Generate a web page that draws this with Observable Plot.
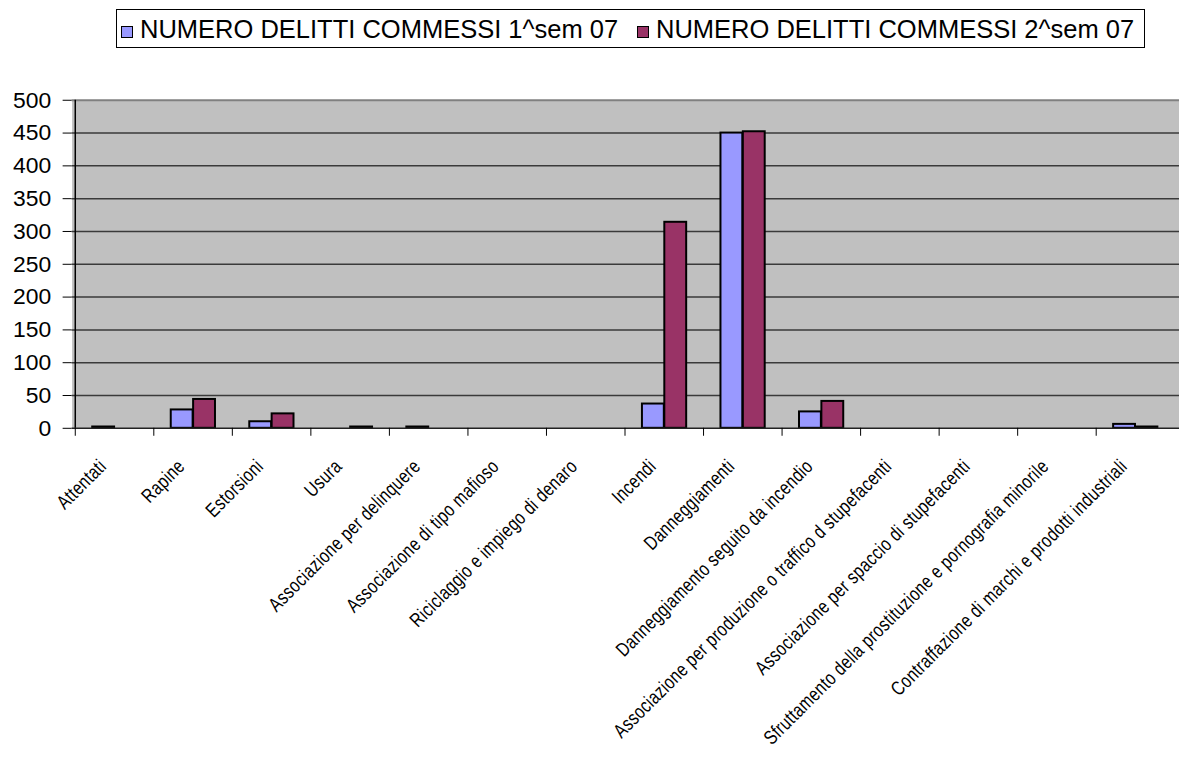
<!DOCTYPE html>
<html><head><meta charset="utf-8">
<script src="https://cdn.jsdelivr.net/npm/d3@7"></script>
<script src="https://cdn.jsdelivr.net/npm/@observablehq/plot@0.6"></script>
<style>
html,body{margin:0;padding:0;background:#fff;overflow:hidden;width:1179px;height:778px;}
#legend{position:absolute;left:116px;top:9px;width:1027px;height:37px;border:1px solid #000;font:25.5px "Liberation Sans",Arial,sans-serif;color:#000;}
.item{position:absolute;top:4px;white-space:nowrap;line-height:30px;}
.sw{display:inline-block;width:10px;height:10px;border:1px solid #000;margin-right:7px;vertical-align:0px;}
#chart{position:absolute;left:0;top:60px;}
</style></head><body>
<div id="legend"></div><div id="chart"></div>
<script>
const categories = [
  "Attentati","Rapine","Estorsioni","Usura","Associazione per delinquere",
  "Associazione di tipo mafioso","Riciclaggio e impiego di denaro","Incendi",
  "Danneggiamenti","Danneggiamento seguito da incendio",
  "Associazione per produzione o traffico d stupefacenti",
  "Associazione per spaccio di stupefacenti",
  "Sfruttamento della prostituzione e pornografia minorile",
  "Contraffazione di marchi e prodotti industriali"
];
const seriesNames = ["NUMERO DELITTI COMMESSI 1^sem 07", "NUMERO DELITTI COMMESSI 2^sem 07"];
const sem1 = [2, 28, 10, 0, 2, 0, 0, 37, 450, 25, 0, 0, 0, 6];
const sem2 = [0, 44, 22, 2, 0, 0, 0, 314, 452, 41, 0, 0, 0, 2];
const colors = ["#9999FF", "#993366"];
const yTicks = [0, 50, 100, 150, 200, 250, 300, 350, 400, 450, 500];

// legend
const legend = document.getElementById("legend");
const legendLeft = [4, 520];
seriesNames.forEach((name, i) => {
  const it = document.createElement("div");
  it.className = "item";
  it.style.left = legendLeft[i] + "px";
  const sw = document.createElement("span");
  sw.className = "sw";
  sw.style.background = colors[i];
  it.appendChild(sw);
  it.appendChild(document.createTextNode(name));
  legend.appendChild(it);
});

const data = categories.flatMap((c, i) => [
  {cat: c, s: 0, v: sem1[i]},
  {cat: c, s: 1, v: sem2[i]}
]);

const W = 1186, mL = 72, mR = 0;
const step = (W - mL - mR) / categories.length;
const bw = 22.5;
const pin = 1 - bw / step;

const chart = Plot.plot({
  width: W,
  height: 718,
  marginTop: 40,
  marginBottom: 348,
  marginLeft: mL,
  marginRight: mR,
  style: {background: "transparent", color: "#000", fontFamily: "'Liberation Sans', Arial, sans-serif", overflow: "visible"},
  x: {domain: categories, paddingInner: pin, paddingOuter: pin / 2, axis: null},
  y: {domain: [0, 500], axis: null},
  marks: [
    Plot.frame({fill: "#c0c0c0", stroke: "none"}),
    Plot.ruleY(yTicks.filter(t => t > 0 && t < 500), {stroke: "#3a3a3a", strokeWidth: 1.5}),
    Plot.ruleY([500], {stroke: "#808080", strokeWidth: 2}),
    Plot.barY(data.filter(d => d.s === 0 && d.v > 0), {x: "cat", y: "v", fill: colors[0], stroke: "#000", strokeWidth: 2, dx: -bw / 2}),
    Plot.barY(data.filter(d => d.s === 1 && d.v > 0), {x: "cat", y: "v", fill: colors[1], stroke: "#000", strokeWidth: 2, dx: bw / 2}),
    Plot.ruleY([0], {stroke: "#222", strokeWidth: 1.5}),
    Plot.ruleX([categories[0]], {dx: -step / 2, stroke: "#000", strokeWidth: 1.5}),
    Plot.ruleX(categories, {x: d => d, dx: -step / 2, insetTop: 330, insetBottom: -8, stroke: "#000", strokeWidth: 1}),
    Plot.axisY(yTicks, {label: null, tickSize: 9, tickPadding: 12, fontSize: 23, stroke: "#000", strokeWidth: 1}),
    Plot.axisX({label: null, tickSize: 0, tickRotate: -45, tickPadding: 35, dx: -12, fontSize: 20, fontFamily: "'Liberation Sans', Arial, sans-serif"})
  ]
});
chart.querySelectorAll('g[aria-label="x-axis tick label"] text').forEach(t => {
  const tr = t.getAttribute("transform") || "";
  t.setAttribute("transform", tr + " scale(0.78,1)");
  t.style.letterSpacing = "0.5px";
});
document.getElementById("chart").appendChild(chart);
</script>
</body></html>
